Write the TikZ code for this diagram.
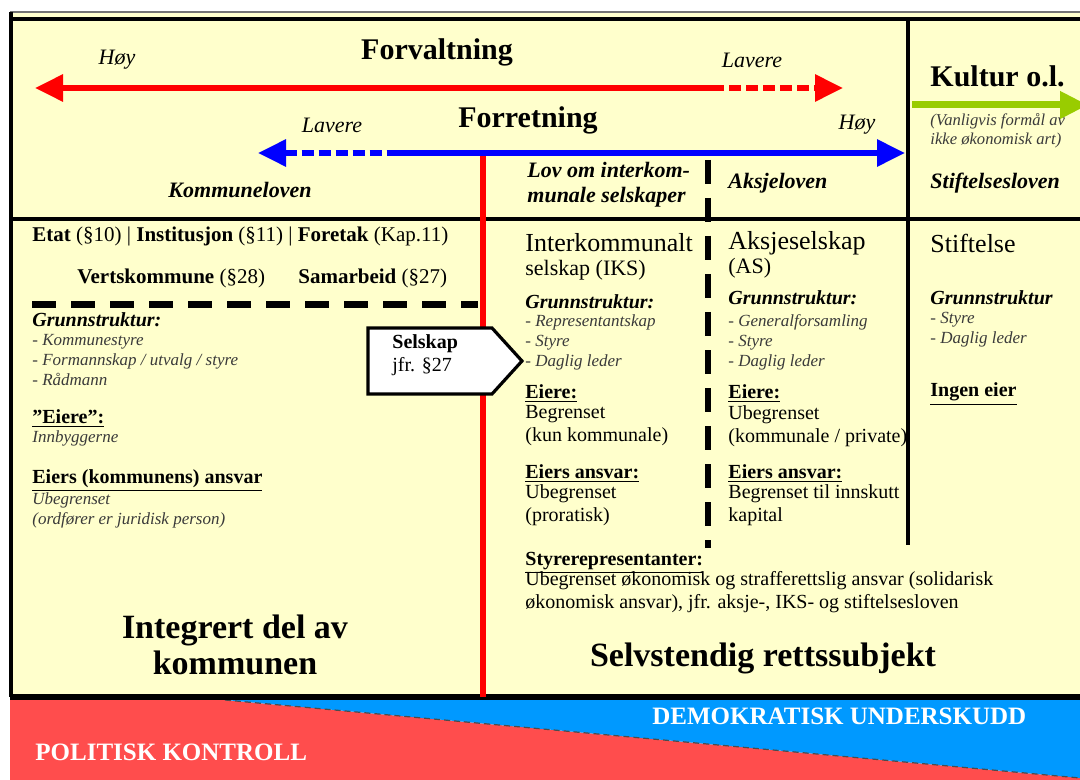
\documentclass[tikz,border=0pt]{standalone}
\usepackage{fontspec}
\setmainfont{Liberation Serif}
\usepackage{tikz}
\usetikzlibrary{arrows.meta}
\definecolor{kommuneCream}{HTML}{FFFFCC}
\definecolor{forvaltRed}{HTML}{FF0000}
\definecolor{forretBlue}{HTML}{0000FF}
\definecolor{kulturGreen}{HTML}{99CC00}
\definecolor{kontrollRed}{HTML}{FF4D4D}
\definecolor{underskuddBlue}{HTML}{0099FF}
\definecolor{itemGray}{HTML}{3A3A3A}
\tikzset{
    bigtip/.tip={Triangle[length=14pt, width=13pt]},
    frameline/.style={draw=black, line width=2.4pt},
    dirarrow/.style={line width=3pt},
    dottedpart/.style={dash pattern=on 6pt off 2.5pt},
    titletxt/.style={font=\fontsize{15}{17}\selectfont\bfseries, inner sep=0pt},
    dirtxt/.style={font=\fontsize{11}{12}\selectfont\itshape, inner sep=0pt},
    lawtxt/.style={font=\fontsize{11}{12.5}\selectfont\bfseries\itshape, inner sep=0pt, anchor=west, align=left},
    kindtxt/.style={font=\fontsize{10.5}{12}\selectfont, inner sep=0pt, anchor=west},
    formtxt/.style={font=\fontsize{13}{15}\selectfont, inner sep=0pt, anchor=west},
    formsubtxt/.style={font=\fontsize{11}{13}\selectfont, inner sep=0pt, anchor=west},
    grunntxt/.style={font=\fontsize{10}{12}\selectfont\bfseries\itshape, inner sep=0pt, anchor=west},
    itemtxt/.style={font=\fontsize{8.5}{10}\selectfont\itshape, text=itemGray, inner sep=0pt, anchor=west, align=left},
    ownertxt/.style={font=\fontsize{10}{12}\selectfont\bfseries, inner sep=0pt, anchor=west},
    bodytxt/.style={font=\fontsize{10}{11.5}\selectfont, inner sep=0pt, anchor=west, align=left},
    areatxt/.style={font=\fontsize{17}{18}\selectfont\bfseries, inner sep=0pt, align=center},
    bannertxt/.style={font=\fontsize{12.5}{14}\selectfont\bfseries, text=white, inner sep=0pt, anchor=west}
}

\begin{document}
\begin{tikzpicture}[x=0.5pt, y=-0.5pt]
    \useasboundingbox (0,0) rectangle (1080,780);
    \clip (0,0) rectangle (1080,780);

    \fill[kommuneCream] (10,12) rectangle (1080,700);
    \fill[kontrollRed] (10,700) -- (225,700) -- (1080,778) -- (1080,780) -- (10,780) -- cycle;
    \fill[underskuddBlue] (225,700) -- (1080,700) -- (1080,778) -- cycle;
    \draw[black!70, line width=0.6pt, densely dashed] (225,700) -- (1080,778);

    \draw[black!55, line width=0.8pt] (10,12) -- (1080,12);
    \draw[frameline] (10,19) -- (1080,19);
    \draw[frameline] (11,12) -- (11,697);
    \draw[frameline] (10,219) -- (1080,219);
    \draw[frameline, line width=3pt] (10,697) -- (1080,697);
    \draw[frameline] (908,19) -- (908,545);
    \draw[forvaltRed, line width=2.6pt] (483,155) -- (483,697);
    \draw[black, line width=2.6pt, dash pattern=on 12pt off 7pt] (708,160) -- (708,548);
    \draw[black, line width=3.5pt, dash pattern=on 12pt off 7.5pt] (32,305) -- (478,305);

    \coordinate (fv-west) at (35,88);
    \coordinate (fv-split) at (712,88);
    \coordinate (fv-east) at (843,88);
    \coordinate (fr-west) at (258,153);
    \coordinate (fr-split) at (390,153);
    \coordinate (fr-east) at (905,153);
    \coordinate (kultur-start) at (912,105);
    \coordinate (kultur-end) at (1088,105);

    \draw[dirarrow, forvaltRed, {bigtip}-] (fv-west) -- (fv-split);
    \draw[dirarrow, forvaltRed, dottedpart, -{bigtip}] (fv-split) -- (fv-east);
    \draw[dirarrow, forretBlue, dottedpart, {bigtip}-] (fr-west) -- (fr-split);
    \draw[dirarrow, forretBlue, -{bigtip}] (fr-split) -- (fr-east);
    \draw[dirarrow, kulturGreen, line width=3.5pt, -{bigtip}] (kultur-start) -- (kultur-end);

    \draw[fill=white, line width=1.6pt, line join=miter] (368,328) -- (492,328) -- (522,361) -- (492,394) -- (368,394) -- cycle;
    \node[bodytxt, font=\fontsize{10}{11.5}\selectfont] (selskap) at (392,355) {\textbf{Selskap}\\jfr. §27};

    \node[dirtxt] (fv-hoy) at (117,60) {Høy};
    \node[titletxt] (forvaltning) at (437,52) {Forvaltning};
    \node[dirtxt] (fv-lavere) at (752,60) {Lavere};
    \node[dirtxt] (fr-lavere) at (332,125) {Lavere};
    \node[titletxt] (forretning) at (528,120) {Forretning};
    \node[dirtxt] (fr-hoy) at (857,125) {Høy};
    \node[lawtxt, anchor=center] (kommuneloven) at (240,190) {Kommuneloven};
    \node[lawtxt, text depth=0pt] (iks-lov) at (527,182) {Lov om interkom-\\munale selskaper};
    \node[lawtxt] (aksjeloven) at (728,183) {Aksjeloven};
    \node[titletxt, anchor=west] (kultur) at (930,76) {Kultur o.l.};
    \node[itemtxt, font=\fontsize{8.3}{9.5}\selectfont\itshape] (kultur-note) at (930,131) {(Vanligvis formål av\\ikke økonomisk art)};
    \node[lawtxt] (stiftelsesloven) at (930,183) {Stiftelsesloven};

    \node[kindtxt] (etat) at (32,236) {\textbf{Etat} (§10) | \textbf{Institusjon} (§11) | \textbf{Foretak} (Kap.11)};
    \node[kindtxt] (vertskommune) at (77,278) {\textbf{Vertskommune} (§28)};
    \node[kindtxt] (samarbeid) at (298,278) {\textbf{Samarbeid} (§27)};
    \node[grunntxt] (kom-grunn) at (32,320) {Grunnstruktur:};
    \node[itemtxt] (kom-items) at (32,360) {- Kommunestyre\\- Formannskap / utvalg / styre\\- Rådmann};
    \node[ownertxt] (kom-eiere) at (32,419) {\underline{”Eiere”:}};
    \node[itemtxt] (kom-eiere-txt) at (32,438) {Innbyggerne};
    \node[ownertxt] (kom-ansvar) at (32,481) {\underline{Eiers (kommunens) ansvar}};
    \node[itemtxt] (kom-ansvar-txt) at (32,510) {Ubegrenset\\(ordfører er juridisk person)};
    \node[areatxt] (integrert) at (235,645) {Integrert del av\\kommunen};

    \node[formtxt] (iks) at (525,243) {Interkommunalt};
    \node[formsubtxt] (iks-sub) at (525,270) {selskap (IKS)};
    \node[grunntxt] (iks-grunn) at (525,302) {Grunnstruktur:};
    \node[itemtxt] (iks-items) at (525,342) {- Representantskap\\- Styre\\- Daglig leder};
    \node[ownertxt] (iks-eiere) at (525,394) {\underline{Eiere:}};
    \node[bodytxt, font=\fontsize{10}{11.5}\selectfont] (iks-eiere-txt) at (525,426) {Begrenset\\(kun kommunale)};
    \node[ownertxt] (iks-ansvar) at (525,474) {\underline{Eiers ansvar:}};
    \node[bodytxt] (iks-ansvar-txt) at (525,505) {Ubegrenset\\(proratisk)};

    \node[formtxt] (as) at (728,243) {Aksjeselskap};
    \node[formsubtxt] (as-sub) at (728,268) {(AS)};
    \node[grunntxt] (as-grunn) at (728,298) {Grunnstruktur:};
    \node[itemtxt] (as-items) at (728,342) {- Generalforsamling\\- Styre\\- Daglig leder};
    \node[ownertxt] (as-eiere) at (728,394) {\underline{Eiere:}};
    \node[bodytxt] (as-eiere-txt) at (728,426) {Ubegrenset\\(kommunale / private)};
    \node[ownertxt] (as-ansvar) at (728,474) {\underline{Eiers ansvar:}};
    \node[bodytxt] (as-ansvar-txt) at (728,505) {Begrenset til innskutt\\kapital};

    \node[formtxt] (stiftelse) at (930,243) {Stiftelse};
    \node[grunntxt] (st-grunn) at (930,298) {Grunnstruktur};
    \node[itemtxt] (st-items) at (930,330) {- Styre\\- Daglig leder};
    \node[ownertxt] (st-eier) at (930,394) {\underline{Ingen eier}};

    \node[ownertxt] (styrerep) at (525,563) {\underline{Styrerepresentanter:}};
    \node[bodytxt] (styrerep-txt) at (525,592) {Ubegrenset økonomisk og strafferettslig ansvar (solidarisk\\økonomisk ansvar), jfr. aksje-, IKS- og stiftelsesloven};
    \node[areatxt] (selvstendig) at (763,658) {Selvstendig rettssubjekt};

    \node[bannertxt] (demokratisk) at (652,716) {DEMOKRATISK UNDERSKUDD};
    \node[bannertxt] (politisk) at (35,752) {POLITISK KONTROLL};
\end{tikzpicture}
\end{document}
